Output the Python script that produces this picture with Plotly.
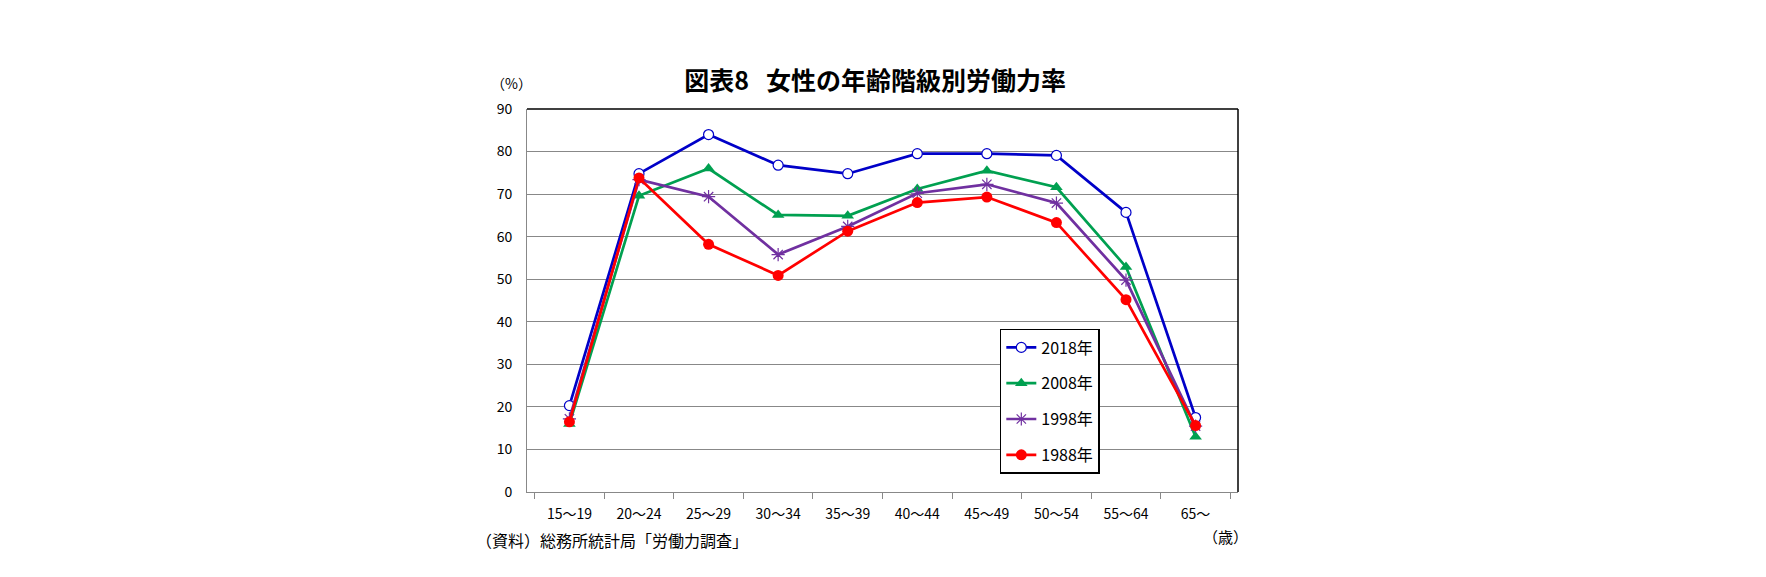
import plotly.graph_objects as go

ages = ["15～19", "20～24", "25～29", "30～34", "35～39", "40～44",
        "45～49", "50～54", "55～64", "65～"]
y2018 = [20.3, 74.8, 84.0, 76.8, 74.8, 79.5, 79.5, 79.1, 65.7, 17.5]
y2008 = [16.0, 69.6, 76.0, 65.1, 64.9, 71.2, 75.5, 71.6, 52.9, 13.0]
y1998 = [17.2, 73.4, 69.4, 55.8, 62.4, 70.2, 72.3, 67.9, 49.8, 15.5]
y1988 = [16.5, 73.8, 58.2, 50.9, 61.3, 68.0, 69.3, 63.3, 45.2, 15.6]

font = "Noto Sans CJK JP"

fig = go.Figure()
fig.add_trace(go.Scatter(x=ages, y=y2018, name="2018年", legendgroup="a",
                         mode="lines+markers",
                         line=dict(color="#0000C8", width=2.7),
                         marker=dict(symbol="circle", size=10, color="white",
                                     line=dict(color="#0000C8", width=1.2))))
fig.add_trace(go.Scatter(x=ages, y=y2008, name="2008年", legendgroup="b",
                         mode="lines+markers",
                         line=dict(color="#00A050", width=2.7),
                         marker=dict(symbol="triangle-up", size=11, color="#00A050")))
fig.add_trace(go.Scatter(x=ages, y=y1998, name="1998年", legendgroup="c",
                         mode="lines+markers",
                         line=dict(color="#7030A0", width=2.7),
                         marker=dict(symbol="asterisk-open", size=11,
                                     line=dict(color="#7030A0", width=1.2))))
fig.add_trace(go.Scatter(x=ages, y=y1988, name="1988年", legendgroup="d",
                         mode="lines+markers",
                         line=dict(color="#FF0000", width=2.7),
                         marker=dict(symbol="circle", size=11, color="#FF0000")))

fig.update_layout(
    width=1766, height=577, autosize=False,
    margin=dict(l=519, r=536, t=101, b=93),
    paper_bgcolor="white", plot_bgcolor="white",
    font=dict(family=font, size=14, color="#000000"),
    title=dict(text="<b>図表8&nbsp;&nbsp;&nbsp;女性の年齢階級別労働力率</b>",
               x=0.491, xanchor="center", y=1 - 73 / 577, yanchor="middle",
               font=dict(size=25, family=font)),
    showlegend=True,
    legend=dict(x=0.665, y=0.4256, xanchor="left", yanchor="top",
                bordercolor="#000000", borderwidth=1.5, bgcolor="white",
                traceorder="grouped", tracegroupgap=12,
                font=dict(size=16, family=font)),
    xaxis=dict(showline=True, linecolor="#888888", linewidth=1,
               ticks="outside", tickson="boundaries", ticklen=6,
               tickcolor="#888888", showgrid=False,
               ticklabelstandoff=9, tickfont=dict(size=14)),
    yaxis=dict(range=[0, 90], dtick=10, showline=True, linecolor="#888888",
               linewidth=1, showgrid=True, gridcolor="#888888", gridwidth=1,
               zeroline=False, ticks="", ticklabelstandoff=11,
               tickfont=dict(size=14)),
    annotations=[
        dict(text="（%）", xref="paper", yref="paper", x=-0.0225, y=1.068,
             xanchor="center", yanchor="middle", showarrow=False,
             font=dict(size=14)),
        dict(text="（資料）総務所統計局「労働力調査」", xref="paper", yref="paper",
             x=-0.075, y=-0.125, xanchor="left", yanchor="middle",
             showarrow=False, font=dict(size=16)),
        dict(text="（歳）", xref="paper", yref="paper", x=0.982, y=-0.116,
             xanchor="center", yanchor="middle", showarrow=False,
             font=dict(size=15)),
    ],
    shapes=[
        dict(type="line", xref="paper", yref="paper", x0=0, x1=1, y0=1, y1=1,
             line=dict(color="#000000", width=1.5)),
        dict(type="line", xref="paper", yref="paper", x0=1, x1=1, y0=0, y1=1,
             line=dict(color="#000000", width=1.5)),
    ],
)

fig.write_html("out.html")
